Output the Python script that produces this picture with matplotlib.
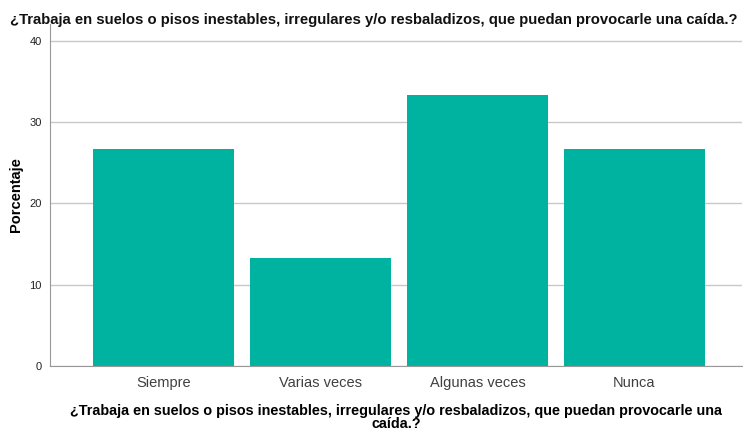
import matplotlib.pyplot as plt
import numpy as np

plt.rcParams['font.family'] = ['Liberation Sans', 'DejaVu Sans']

categorias = ['Siempre', 'Varias veces', 'Algunas veces', 'Nunca']
porcentaje = [26.67, 13.33, 33.33, 26.67]
yticks = [0, 10, 20, 30, 40]
pregunta = '¿Trabaja en suelos o pisos inestables, irregulares y/o resbaladizos, que puedan provocarle una caída.?'

fig = plt.figure(figsize=(7.45, 4.33), dpi=100)
ax = fig.add_axes([50/745, 1 - 366/433, 692/745, 342/433])

x = np.arange(len(categorias))
ax.bar(x, porcentaje, width=0.898, color='#00b3a1', zorder=2)

ax.set_xlim(-0.723, 3.685)
ax.set_ylim(0, 42.07)
ax.set_yticks(yticks)
ax.set_xticks(x)
ax.set_xticklabels(categorias, fontsize=10.5, color='#404040')
ax.tick_params(axis='y', length=0, labelsize=8, labelcolor='#222222', pad=6)
ax.tick_params(axis='x', length=0, pad=7)
ax.yaxis.grid(True, color='#c8c8c8', linewidth=1, zorder=0)
ax.set_axisbelow(True)

for s in ['top', 'right']:
    ax.spines[s].set_visible(False)
ax.spines['left'].set_color('#999999')
ax.spines['bottom'].set_color('#999999')

ax.set_ylabel('Porcentaje', fontsize=10.5, fontweight='bold')
ax.yaxis.set_label_coords(-27/692, 0.5)
ax.set_xlabel(pregunta.replace('una caída', 'una\ncaída'),
              fontsize=10.4, fontweight='bold', linespacing=0.95, labelpad=10)

fig.text(10 / 745, 1 - 20 / 433, pregunta,
         fontsize=10.75, fontweight='bold', ha='left', va='center', color='#111111')

fig.savefig('out.png', dpi=100)
